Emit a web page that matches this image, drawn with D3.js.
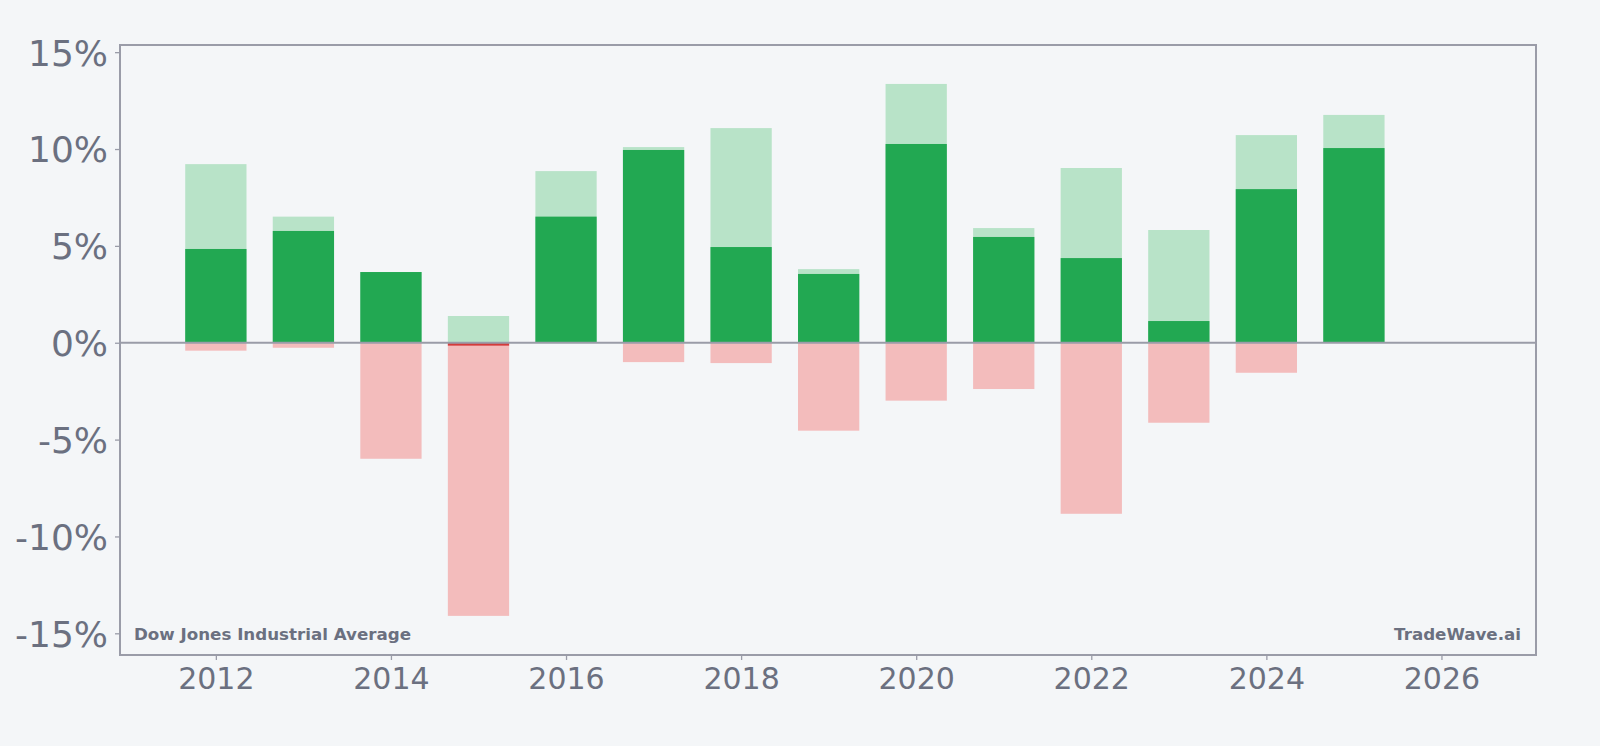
<!DOCTYPE html>
<html><head><meta charset="utf-8">
<script src="https://cdn.jsdelivr.net/npm/d3@7"></script>
<style>
html,body{margin:0;padding:0;background:#f4f6f8;}
svg{display:block;font-family:"DejaVu Sans",sans-serif;}
</style></head>
<body><svg id="chart" width="1600" height="746"></svg>
<script>
const years = [2012,2013,2014,2015,2016,2017,2018,2019,2020,2021,2022,2023,2024,2025];
const yearReturn = [4.84,5.77,3.65,-0.15,6.51,9.95,4.94,3.55,10.26,5.46,4.37,1.12,7.93,10.05];
const maxGain = [9.22,6.51,3.65,1.38,8.86,10.10,11.08,3.80,13.36,5.92,9.02,5.82,10.72,11.76];
const maxDrawdown = [-0.41,-0.26,-5.99,-14.10,0,-1.00,-1.05,-4.54,-2.99,-2.39,-8.83,-4.13,-1.55,0];
const xTicks = [2012,2014,2016,2018,2020,2022,2024,2026];
const yTicks = [-15,-10,-5,0,5,10,15];
const leftLabel = "Dow Jones Industrial Average";
const rightLabel = "TradeWave.ai";

const svg = d3.select("#chart");
const L=120, R=1536, T=45, B=655;
const x = d3.scaleLinear().domain([2010.905, 2027.08]).range([L, R]);
const y = d3.scaleLinear().domain([-16.12, 15.37]).range([B, T]);
const bw = x(2012.35) - x(2011.65);
const axisCol = "#9a9ca8", textCol = "#6b7080";

svg.append("rect").attr("width",1600).attr("height",746).attr("fill","#f4f6f8");

const g = svg.append("g");
const data = years.map((yr,i)=>({yr, ret:yearReturn[i], hi:maxGain[i], lo:maxDrawdown[i]}));

// light green: max gain
g.selectAll(".hi").data(data.filter(d=>d.hi>0)).join("rect")
  .attr("x",d=>x(d.yr)-bw/2).attr("width",bw)
  .attr("y",d=>y(d.hi)).attr("height",d=>y(0)-y(d.hi)).attr("fill","#b8e3c8");
// light red: max drawdown
g.selectAll(".lo").data(data.filter(d=>d.lo<0)).join("rect")
  .attr("x",d=>x(d.yr)-bw/2).attr("width",bw)
  .attr("y",y(0)).attr("height",d=>y(d.lo)-y(0)).attr("fill","#f3bcbc");
// dark: year return
g.selectAll(".ret").data(data).join("rect")
  .attr("x",d=>x(d.yr)-bw/2).attr("width",bw)
  .attr("y",d=>d.ret>=0?y(d.ret):y(0)).attr("height",d=>Math.abs(y(d.ret)-y(0)))
  .attr("fill",d=>d.ret>=0?"#22a852":"#d33b3b");

// zero line
svg.append("line").attr("x1",L).attr("x2",R).attr("y1",y(0)).attr("y2",y(0))
  .attr("stroke",axisCol).attr("stroke-width",2);

// frame
svg.append("rect").attr("x",L).attr("y",T).attr("width",R-L).attr("height",B-T)
  .attr("fill","none").attr("stroke",axisCol).attr("stroke-width",2);

// axes
const yAxis = svg.append("g").attr("transform",`translate(${L},0)`)
  .call(d3.axisLeft(y).tickValues(yTicks).tickFormat(d=>d+"%").tickSize(5).tickPadding(7));
yAxis.select(".domain").remove();
yAxis.selectAll("line").attr("stroke",axisCol).attr("stroke-width",1.3);
yAxis.selectAll("text").attr("fill",textCol).attr("font-size",36).attr("font-family","DejaVu Sans").attr("dy","0.36em");

const xAxis = svg.append("g").attr("transform",`translate(0,${B})`)
  .call(d3.axisBottom(x).tickValues(xTicks).tickFormat(d3.format("d")).tickSize(5).tickPadding(6));
xAxis.select(".domain").remove();
xAxis.selectAll("line").attr("stroke",axisCol).attr("stroke-width",1.3);
xAxis.selectAll("text").attr("fill",textCol).attr("font-size",30).attr("font-family","DejaVu Sans").attr("dy","0.76em");

svg.append("text").attr("x",L+14).attr("y",B-15).text(leftLabel)
  .attr("fill",textCol).attr("font-size",16.7).attr("font-weight","bold");
svg.append("text").attr("x",R-15).attr("y",B-15).attr("text-anchor","end").text(rightLabel)
  .attr("fill",textCol).attr("font-size",16.7).attr("font-weight","bold");
</script></body></html>
